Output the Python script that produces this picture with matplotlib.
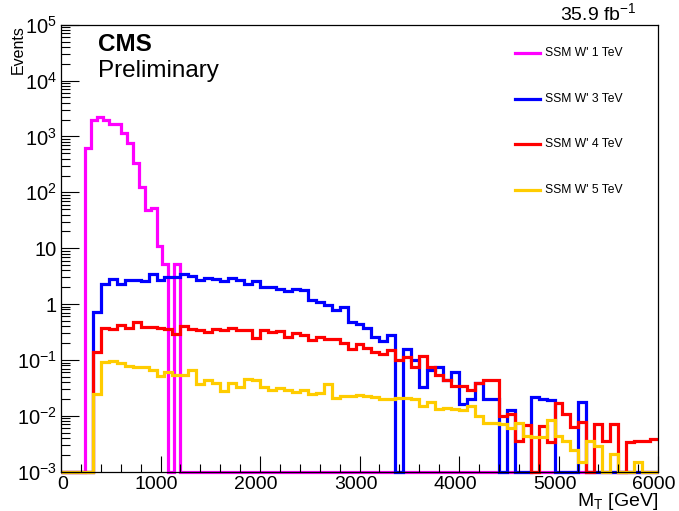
import numpy as np
import matplotlib
matplotlib.use("Agg")
import matplotlib.pyplot as plt
from matplotlib.lines import Line2D
from matplotlib.transforms import ScaledTranslation
from matplotlib.ticker import FixedLocator, FixedFormatter, LogLocator, MultipleLocator, NullFormatter

plt.rcParams["font.family"] = ["Liberation Sans", "DejaVu Sans"]
plt.rcParams["mathtext.fontset"] = "custom"
plt.rcParams["mathtext.rm"] = "Liberation Sans"
plt.rcParams["mathtext.it"] = "Liberation Sans:italic"
plt.rcParams["mathtext.bf"] = "Liberation Sans:bold"

# --- binning ---
x_min, x_max = 0, 6000
edges_60 = np.arange(x_min, x_max + 1, 60)   # 1 TeV sample: 100 bins
edges_80 = np.arange(x_min, x_max + 1, 80)   # 3, 4, 5 TeV samples: 75 bins

# SSM W' 1 TeV, non-empty bins start at 240 GeV (60 GeV bins)
w1_first_edge = 240
w1_counts = [620, 1980, 2200, 1950, 1650, 1650, 1140, 770, 340, 126,
             49, 53, 11, 5.3, 0, 5.3]

# SSM W' 3 TeV (80 GeV bins)
w3_counts = [0, 0, 0, 0, 0.72, 2.32, 2.86, 2.32, 2.75, 2.75,
             2.6, 3.4, 2.75, 3.1, 3.1, 3.4, 3.2, 2.67, 2.94, 2.86,
             2.55, 2.94, 2.75, 2.32, 2.55, 2.03, 2.0, 1.88, 1.72, 1.88,
             1.77, 1.2, 1.09, 0.95, 0.77, 0.89, 0.48, 0.44, 0.37, 0.26,
             0.22, 0.28, 0, 0.155, 0.10, 0.033, 0.065, 0.074, 0.043, 0.06,
             0.016, 0.020, 0.038, 0.020, 0.020, 0, 0.0128, 0, 0, 0.022,
             0.020, 0.019, 0, 0, 0, 0.0175, 0, 0, 0, 0,
             0, 0, 0, 0, 0]

# SSM W' 4 TeV (80 GeV bins)
w4_counts = [0, 0, 0, 0, 0.138, 0.37, 0.36, 0.415, 0.37, 0.48,
             0.39, 0.39, 0.38, 0.36, 0.29, 0.40, 0.36, 0.34, 0.32, 0.36,
             0.34, 0.37, 0.35, 0.34, 0.25, 0.35, 0.32, 0.33, 0.26, 0.305,
             0.28, 0.23, 0.26, 0.24, 0.24, 0.20, 0.157, 0.195, 0.165, 0.14,
             0.126, 0.152, 0.100, 0.112, 0.075, 0.12, 0.075, 0.054, 0.044, 0.034,
             0.034, 0.029, 0.038, 0.043, 0.044, 0.0098, 0.0107, 0.0035, 0.0069, 0,
             0.0066, 0.0034, 0.0172, 0.0106, 0.0063, 0.0076, 0, 0.0071, 0.0036, 0.0071,
             0, 0.0034, 0.0035, 0.0036, 0.0038]

# SSM W' 5 TeV (80 GeV bins)
w5_counts = [0, 0, 0, 0, 0.025, 0.091, 0.095, 0.087, 0.079, 0.075,
             0.074, 0.066, 0.052, 0.061, 0.053, 0.053, 0.065, 0.037, 0.043, 0.038,
             0.028, 0.038, 0.033, 0.045, 0.043, 0.033, 0.029, 0.031, 0.029, 0.027,
             0.029, 0.025, 0.026, 0.037, 0.021, 0.023, 0.023, 0.024, 0.023, 0.022,
             0.020, 0.020, 0.021, 0.021, 0.020, 0.0153, 0.018, 0.0133, 0.014, 0.013,
             0.0128, 0.0153, 0.0100, 0.0073, 0.0073, 0.0071, 0.0060, 0.0073, 0.0044, 0.0042,
             0.0042, 0.0085, 0.0044, 0.0036, 0.0024, 0.0015, 0.0035, 0.0029, 0, 0.0021,
             0, 0, 0.0015, 0, 0]

labels = ["SSM W' 1 TeV", "SSM W' 3 TeV", "SSM W' 4 TeV", "SSM W' 5 TeV"]
colors = ["#FF00FF", "#0000FF", "#FF0000", "#FFCC00"]

y_min, y_max = 1e-3, 1e5
xtick_vals = [0, 1000, 2000, 3000, 4000, 5000, 6000]

# full 1 TeV histogram (empty bins outside the filled range)
w1_full = np.zeros(len(edges_60) - 1)
i0 = w1_first_edge // 60
w1_full[i0:i0 + len(w1_counts)] = w1_counts

fig = plt.figure(figsize=(6.79, 5.11), dpi=100)
ax = fig.add_axes([61 / 679, 1 - 471.7 / 511, 597 / 679, 447 / 511])

hists = [(w1_full, edges_60), (np.array(w3_counts), edges_80),
         (np.array(w4_counts), edges_80), (np.array(w5_counts), edges_80)]
for (vals, edg), col in zip(hists, colors):
    # empty bins sit on the lower frame, like ROOT does on a log axis
    shown = np.where(vals > 0, vals, y_min)
    ax.stairs(shown, edg, baseline=None, color=col, lw=2.3, clip_on=False)

ax.set_xlim(x_min, x_max)
ax.set_yscale("log")
ax.set_ylim(y_min, y_max)

# y axis: ROOT style decade labels
ytick_vals = [1e-3, 1e-2, 1e-1, 1, 10, 1e2, 1e3, 1e4, 1e5]
ytick_text = [r"$10^{-3}$", r"$10^{-2}$", r"$10^{-1}$", "1", "10",
              r"$10^{2}$", r"$10^{3}$", r"$10^{4}$", r"$10^{5}$"]
ax.yaxis.set_major_locator(FixedLocator(ytick_vals))
ax.yaxis.set_major_formatter(FixedFormatter(ytick_text))
ax.yaxis.set_minor_locator(LogLocator(base=10, subs=np.arange(2, 10), numticks=20))
ax.yaxis.set_minor_formatter(NullFormatter())

ax.xaxis.set_major_locator(FixedLocator(xtick_vals))
ax.xaxis.set_major_formatter(FixedFormatter([str(v) for v in xtick_vals]))
ax.xaxis.set_minor_locator(MultipleLocator(200))

ax.tick_params(axis="both", which="both", direction="in", top=False, right=False,
               width=0.8, color="black")
ax.tick_params(axis="y", which="major", length=13, labelsize=14.5, pad=3)
ax.tick_params(axis="y", which="minor", length=6.5)
ax.tick_params(axis="x", which="major", length=11.5, labelsize=14, pad=3)
ax.tick_params(axis="x", which="minor", length=5.8)
for sp in ax.spines.values():
    sp.set_linewidth(0.9)

# x labels (except the first) sit a little left of their ticks
for k, tick in enumerate(ax.xaxis.get_major_ticks()):
    if k == 0:
        shift = ScaledTranslation(2 / 100, 0, fig.dpi_scale_trans)
    else:
        shift = ScaledTranslation(-4 / 100, 0, fig.dpi_scale_trans)
    tick.label1.set_transform(tick.label1.get_transform() + shift)

ax.text(1.0, -0.0767, r"M$_{\mathrm{T}}$ [GeV]", transform=ax.transAxes,
        fontsize=14, ha="right", va="baseline")
ax.set_ylabel("Events", fontsize=11.5, loc="top")
ax.yaxis.set_label_coords(-0.059, 1.0)

# CMS labels
ax.text(0.0625, 0.941, "CMS", transform=ax.transAxes, fontsize=17.5,
        fontweight="bold", ha="left", va="baseline")
ax.text(0.0625, 0.882, "Preliminary", transform=ax.transAxes, fontsize=17.5,
        ha="left", va="baseline")
fig.text(637 / 679, 1 - 20 / 511, r"35.9 fb$^{-1}$", fontsize=14,
         ha="right", va="baseline")

# legend without frame
leg_rows = [52.7, 98.7, 144.3, 190.0]
for lab, col, ypx in zip(labels, colors, leg_rows):
    yf = 1 - ypx / 511
    fig.add_artist(Line2D([515 / 679, 540 / 679], [yf, yf], color=col, lw=2.3,
                          transform=fig.transFigure))
    fig.text(545 / 679, yf, lab, fontsize=8.7, ha="left", va="center")

fig.savefig("out.png", dpi=100)
